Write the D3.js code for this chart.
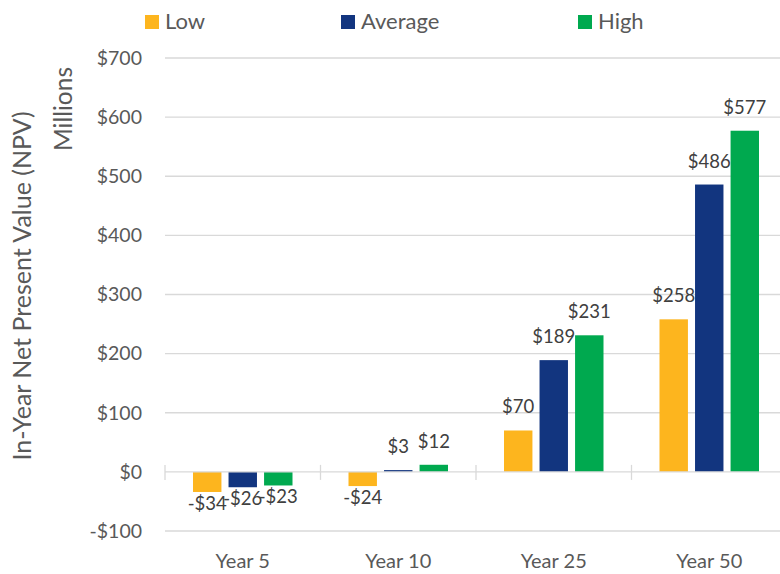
<!DOCTYPE html>
<html><head><meta charset="utf-8">
<script src="https://cdn.jsdelivr.net/npm/d3@7"></script>
<style>body{margin:0;background:#fff;} text{font-family:Lato,"Noto Sans",sans-serif;}</style>
</head><body><svg id="c" width="780" height="574"></svg>
<script>
const categories = ["Year 5","Year 10","Year 25","Year 50"];
const seriesNames = ["Low","Average","High"];
const lowValues = [-34,-24,70,258];
const averageValues = [-26,3,189,486];
const highValues = [-23,12,231,577];
const yTicks = [-100,0,100,200,300,400,500,600,700];
const colors = ["#FDB51E","#12357F","#00A94F"];

const series = [lowValues, averageValues, highValues];
const svg = d3.select("#c");
const x0 = d3.scaleBand().domain(categories).range([165,787]).paddingInner(0).paddingOuter(0);
const x1 = d3.scaleBand().domain(seriesNames).range([28, x0.bandwidth()-28]).paddingInner(0.2).paddingOuter(0);
const y = d3.scaleLinear().domain([-100,700]).range([531,58]);
const fmt = v => (v<0?"-$":"$")+Math.abs(v);

// gridlines
svg.append("g").selectAll("line").data(yTicks.filter(t=>t!==0)).join("line")
  .attr("x1",165).attr("x2",780).attr("y1",d=>y(d)).attr("y2",d=>y(d))
  .attr("stroke","#d9d9d9").attr("stroke-width",1.3);

// y labels
const yAxis = d3.axisLeft(y).tickValues(yTicks).tickSize(0).tickPadding(0).tickFormat(fmt);
const ga = svg.append("g").attr("transform","translate(142,0)").call(yAxis);
ga.select(".domain").remove();
ga.selectAll("text").attr("font-size",19.5).attr("fill","#595959").attr("font-family","Lato,'Noto Sans',sans-serif");

// bars
const groups = svg.append("g").selectAll("g").data(categories).join("g")
  .attr("transform",d=>`translate(${x0(d)},0)`);
groups.selectAll("rect").data((d,i)=>seriesNames.map((s,j)=>({s,v:series[j][i],c:colors[j]}))).join("rect")
  .attr("x",d=>x1(d.s)).attr("width",x1.bandwidth())
  .attr("y",d=>Math.min(y(d.v),y(0))).attr("height",d=>Math.abs(y(d.v)-y(0)))
  .attr("fill",d=>d.c);
groups.selectAll("text").data((d,i)=>seriesNames.map((s,j)=>({s,v:series[j][i]}))).join("text")
  .attr("x",d=>x1(d.s)+x1.bandwidth()/2)
  .attr("y",d=>d.v<0? y(d.v)+18 : y(d.v)-17)
  .attr("text-anchor","middle").attr("font-size",18.5).attr("fill","#404040").text(d=>fmt(d.v));

// x axis line and ticks
svg.append("line").attr("x1",165).attr("x2",780).attr("y1",y(0)).attr("y2",y(0)).attr("stroke","#d9d9d9").attr("stroke-width",1.3);
const xAxis = d3.axisBottom(x0).tickSize(0);
svg.append("g").selectAll("line").data([0,1,2,3]).join("line")
  .attr("x1",d=>x0(categories[d])).attr("x2",d=>x0(categories[d]))
  .attr("y1",y(0)-7).attr("y2",y(0)+8).attr("stroke","#d9d9d9").attr("stroke-width",1.3);
const gx = svg.append("g").attr("transform","translate(0,551)").call(xAxis);
gx.select(".domain").remove();
gx.selectAll("text").attr("font-size",20).attr("fill","#595959").attr("dy","0.71em").attr("font-family","Lato,'Noto Sans',sans-serif");

// axis titles
svg.append("text").attr("transform","translate(31,286) rotate(-90)").attr("text-anchor","middle")
  .attr("font-size",25).attr("fill","#595959").text("In-Year Net Present Value (NPV)");
svg.append("text").attr("transform","translate(72,109) rotate(-90)").attr("text-anchor","middle")
  .attr("font-size",24.5).attr("fill","#595959").text("Millions");

// legend
const legX = [145,341,578];
const lg = svg.append("g").selectAll("g").data(seriesNames).join("g").attr("transform",(d,i)=>`translate(${legX[i]},0)`);
lg.append("rect").attr("x",0).attr("y",15).attr("width",14).attr("height",14).attr("fill",(d,i)=>colors[i]);
lg.append("text").attr("x",20).attr("y",29).attr("font-size",22).attr("fill","#595959").text(d=>d);
</script></body></html>
